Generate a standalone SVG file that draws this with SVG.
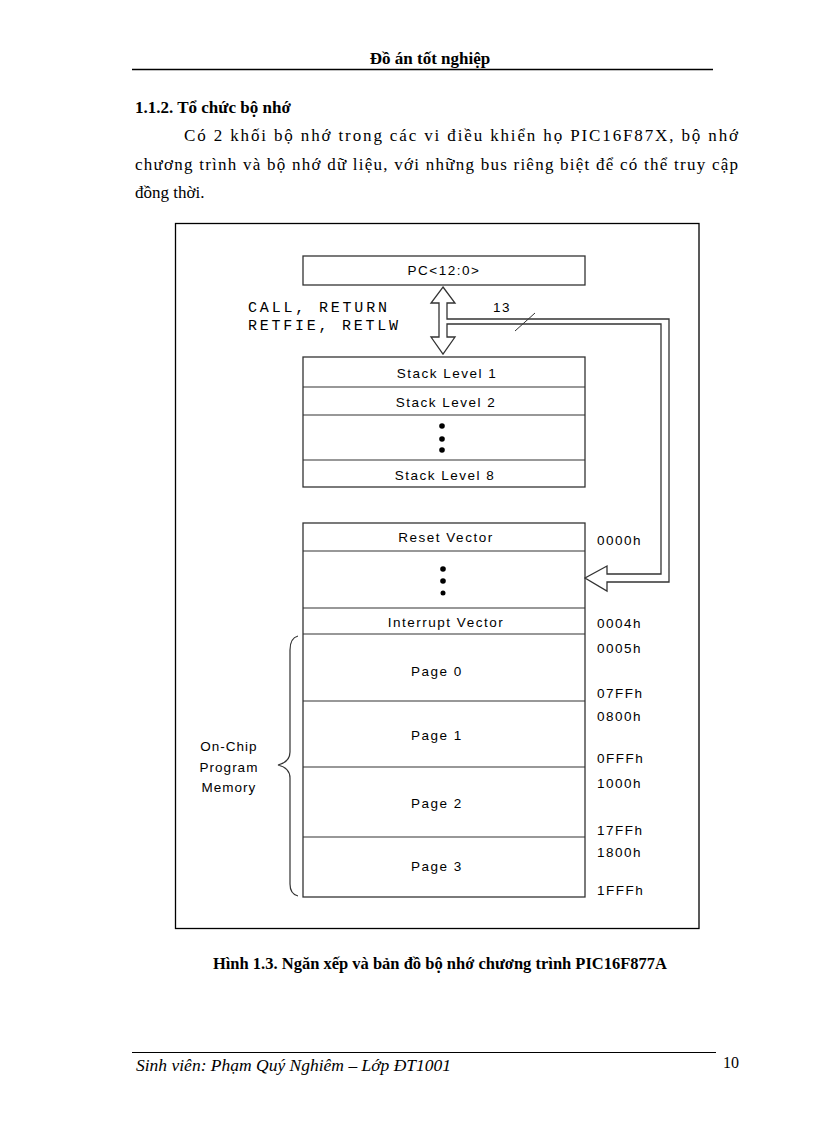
<svg xmlns="http://www.w3.org/2000/svg" width="816" height="1123" viewBox="0 0 816 1123">
<style>
.t{font-family:"Liberation Serif",serif;fill:#000}
.s{font-family:"Liberation Sans",Arial,sans-serif;font-size:13.5px;letter-spacing:1.5px;fill:#000}
.m{font-family:"Liberation Mono",monospace;font-size:15px;fill:#000}
.c{text-anchor:middle}
.box{fill:#fff;stroke:#333;stroke-width:1.3}
.ln{stroke:#333;stroke-width:1.2;fill:none}
</style>
<rect width="816" height="1123" fill="#fff"/>
<text class="t c" x="430" y="64" font-size="17" font-weight="bold">Đồ án tốt nghiệp</text>
<line x1="132" y1="69.500" x2="713" y2="69.500" stroke="#000" stroke-width="1.3"/>
<text class="t" x="135" y="113" font-size="17" font-weight="bold">1.1.2. Tổ chức bộ nhớ</text>
<text class="t" x="184" y="141" font-size="17" textLength="554" lengthAdjust="spacing">Có 2 khối bộ nhớ trong các vi điều khiển họ PIC16F87X, bộ nhớ</text>
<text class="t" x="135" y="170" font-size="17" textLength="603" lengthAdjust="spacing">chương trình và bộ nhớ dữ liệu, với những bus riêng biệt để có thể truy cập</text>
<text class="t" x="135" y="198" font-size="17">đồng thời.</text>
<rect x="175.500" y="223.500" width="523.500" height="705" fill="none" stroke="#000" stroke-width="1.3"/>
<g id="pc"><rect class="box" x="303" y="256" width="282" height="29"/><text class="s c" x="444" y="275">PC&lt;12:0&gt;</text></g>
<g id="stack">
<rect class="box" x="303" y="357" width="282" height="130"/>
<line class="ln" x1="303" y1="387" x2="585" y2="387"/><line class="ln" x1="303" y1="415" x2="585" y2="415"/><line class="ln" x1="303" y1="460" x2="585" y2="460"/>
<text class="s c" x="447" y="378">Stack Level 1</text><text class="s c" x="446" y="407">Stack Level 2</text>
<circle cx="442" cy="426" r="2.8"/><circle cx="442" cy="439" r="2.8"/><circle cx="442" cy="450" r="2.8"/>
<text class="s c" x="445" y="480">Stack Level 8</text></g>
<g id="progmem">
<rect class="box" x="303" y="523" width="282" height="374"/>
<line class="ln" x1="303" y1="551" x2="585" y2="551"/><line class="ln" x1="303" y1="608" x2="585" y2="608"/><line class="ln" x1="303" y1="634" x2="585" y2="634"/><line class="ln" x1="303" y1="701" x2="585" y2="701"/><line class="ln" x1="303" y1="767" x2="585" y2="767"/><line class="ln" x1="303" y1="837" x2="585" y2="837"/>
<text class="s c" x="446" y="542">Reset Vector</text>
<circle cx="443" cy="569" r="2.8"/><circle cx="443" cy="581" r="2.8"/><circle cx="443" cy="593" r="2.5"/>
<text class="s c" x="446" y="627">Interrupt Vector</text>
<text class="s c" x="437" y="676">Page 0</text><text class="s c" x="437" y="740">Page 1</text><text class="s c" x="437" y="808">Page 2</text><text class="s c" x="437" y="871">Page 3</text>
<g class="s"><text x="597" y="545">0000h</text><text x="597" y="628">0004h</text><text x="597" y="653">0005h</text><text x="597" y="698">07FFh</text><text x="597" y="721">0800h</text><text x="597" y="763">0FFFh</text><text x="597" y="788">1000h</text><text x="597" y="835">17FFh</text><text x="597" y="857">1800h</text><text x="597" y="895">1FFFh</text></g>
<path class="ln" d="M298,636 Q290,638 290,650 L290,752 Q290,762 278,765 Q290,768 290,778 L290,884 Q290,894 298,896"/>
<g class="s c" style="letter-spacing:1px"><text x="229" y="751">On-Chip</text><text x="229" y="772">Program</text><text x="229" y="792">Memory</text></g>
</g>
<g class="m"><text x="248" y="312" textLength="139">CALL, RETURN</text><text x="248" y="330" textLength="150">RETFIE, RETLW</text></g>
<g id="connectors" fill="#fff" stroke="#333" stroke-width="1.3">
<path d="M443,287 L455,303 L447,303 L447,319 L669,319 L669,582 L607,582 L607,591 L585,578 L607,566 L607,574 L661,574 L661,324 L447,324 L447,337 L455,337 L443,354 L431,337 L439,337 L439,303 L431,303 Z"/>
<line x1="515" y1="331" x2="535" y2="313" stroke-width="1"/>
</g>
<text class="s" x="493" y="312">13</text>
<text class="t c" x="440" y="969" font-size="16.5" font-weight="bold">Hình 1.3. Ngăn xếp và bản đồ bộ nhớ chương trình PIC16F877A</text>
<line x1="132" y1="1052.500" x2="716" y2="1052.500" stroke="#000" stroke-width="1"/>
<text class="t" x="136" y="1071" font-size="17.500" font-style="italic">Sinh viên: Phạm Quý Nghiêm – Lớp ĐT1001</text>
<text class="t" x="723" y="1068" font-size="16">10</text>
</svg>
